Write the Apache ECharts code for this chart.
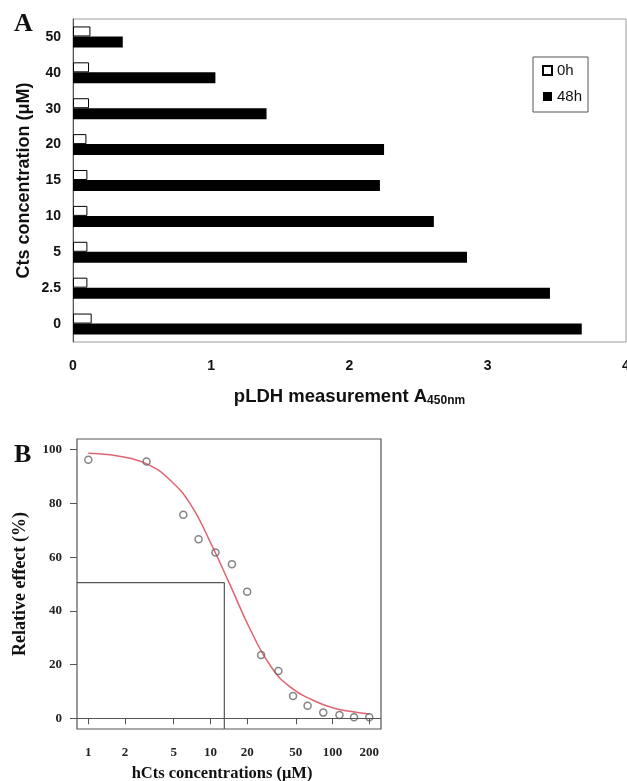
<!DOCTYPE html>
<html><head><meta charset="utf-8">
<script src="https://cdn.jsdelivr.net/npm/echarts@6/dist/echarts.min.js"></script>
<style>html,body{margin:0;padding:0;background:#fff}#c{width:627px;height:781px}</style>
</head><body><div id="c"></div>
<script>
// ---- Panel A data ----
const categoriesA = ['0', '2.5', '5', '10', '15', '20', '30', '40', '50'];
const values0h = [0.135, 0.104, 0.104, 0.104, 0.104, 0.097, 0.116, 0.116, 0.126];
const values48h = [3.68, 3.45, 2.85, 2.61, 2.22, 2.25, 1.40, 1.03, 0.36];
const seriesNamesA = ['0h', '48h'];

// ---- Panel B data ----
const concB = [1, 3, 6, 8, 11, 15, 20, 26, 36, 47.5, 62.5, 84, 114, 150, 200];
const effectB = [96.3, 95.6, 75.8, 66.7, 61.7, 57.4, 47.1, 23.6, 17.6, 8.3, 4.7, 2.1, 1.2, 0.4, 0.4];
const fitX = [1, 1.5, 2.2, 3.2, 4.6, 6.8, 10, 14.7, 21.5, 31.6, 46.4, 68, 100, 147, 200];
const fitY = [98.7, 98.1, 96.8, 94.2, 89.0, 80.0, 65.5, 49.0, 32.5, 19.0, 11.2, 6.9, 3.9, 2.4, 1.6];
const xTicksB = [1, 2, 5, 10, 20, 50, 100, 200];
const yTicksB = [0, 20, 40, 60, 80, 100];
const ic50 = 13;
const halfEffect = 50.5;
const xRangeB = [0.808, 249.5];
const yRangeB = [-4, 104];

const SANS = 'Liberation Sans';
const SERIF = 'Liberation Serif';

const chart = echarts.init(document.getElementById('c'), null, {renderer: 'canvas'});

const option = {
  animation: false,
  backgroundColor: '#fff',
  title: [
    {text: 'A', left: 14, top: 11, padding: 0, textStyle: {fontFamily: SERIF, fontWeight: 'bold', fontSize: 26, color: '#111'}},
    {text: 'B', left: 14, top: 442, padding: 0, textStyle: {fontFamily: SERIF, fontWeight: 'bold', fontSize: 26, color: '#111'}}
  ],
  legend: {
    data: seriesNamesA,
    orient: 'vertical',
    left: 533, top: 57,
    padding: [6, 6, 8, 9],
    itemWidth: 9, itemHeight: 9, itemGap: 11,
    icon: 'rect',
    borderColor: '#555', borderWidth: 1,
    backgroundColor: '#fff',
    textStyle: {fontFamily: SANS, fontSize: 15, color: '#111'}
  },
  grid: [
    {left: 73, top: 19, width: 553, height: 323, show: true, borderColor: '#999', borderWidth: 1, outerBoundsMode: 'none', containLabel: false},
    {left: 77, top: 439, width: 304, height: 290, show: true, borderColor: '#555', borderWidth: 1.2, outerBoundsMode: 'none', containLabel: false}
  ],
  xAxis: [
    {
      gridIndex: 0, type: 'value', min: 0, max: 4, interval: 1,
      splitLine: {show: false},
      axisLine: {lineStyle: {color: '#555'}},
      axisTick: {length: 4, lineStyle: {color: '#555'}},
      axisLabel: {margin: 17, fontFamily: SANS, fontWeight: 'bold', fontSize: 14, color: '#111'},
      name: '{m|pLDH measurement A}{s|450nm}',
      nameLocation: 'middle', nameGap: 44, nameMoveOverlap: false,
      nameTextStyle: {
        rich: {
          m: {fontFamily: SANS, fontWeight: 'bold', fontSize: 18.5, color: '#111'},
          s: {fontFamily: SANS, fontWeight: 'bold', fontSize: 12, color: '#111', padding: [9, 0, 0, 0]}
        }
      }
    },
    {
      gridIndex: 1, type: 'log', logBase: 10, min: xRangeB[0], max: xRangeB[1],
      splitLine: {show: false},
      axisLine: {show: false},
      axisTick: {length: 6, customValues: xTicksB, lineStyle: {color: '#555'}},
      axisLabel: {margin: 17, customValues: xTicksB, fontFamily: SERIF, fontWeight: 'bold', fontSize: 13, color: '#222'},
      name: 'hCts concentrations (μM)',
      nameLocation: 'middle', nameGap: 36, nameMoveOverlap: false,
      nameTextStyle: {fontFamily: SERIF, fontWeight: 'bold', fontSize: 16.5, color: '#111', padding: [0, 14, 0, 0]}
    }
  ],
  yAxis: [
    {
      gridIndex: 0, type: 'category', data: categoriesA,
      axisLine: {lineStyle: {color: '#555'}},
      axisTick: {length: 5, lineStyle: {color: '#555'}},
      axisLabel: {margin: 12, fontFamily: SANS, fontWeight: 'bold', fontSize: 14, color: '#111'},
      name: 'Cts concentration (μM)',
      nameLocation: 'middle', nameGap: 40, nameRotate: 90, nameMoveOverlap: false,
      nameTextStyle: {fontFamily: SANS, fontWeight: 'bold', fontSize: 18, color: '#111'}
    },
    {
      gridIndex: 1, type: 'value', min: yRangeB[0], max: yRangeB[1],
      splitLine: {show: false},
      axisLine: {show: false},
      axisTick: {show: true, length: 7, customValues: yTicksB, lineStyle: {color: '#555'}},
      axisLabel: {margin: 15, customValues: yTicksB, fontFamily: SERIF, fontWeight: 'bold', fontSize: 13, color: '#222'},
      name: 'Relative effect (%)',
      nameLocation: 'middle', nameGap: 48, nameRotate: 90, nameMoveOverlap: false,
      nameTextStyle: {fontFamily: SERIF, fontWeight: 'bold', fontSize: 18, color: '#111'}
    }
  ],
  series: [
    {
      name: seriesNamesA[0], type: 'bar', xAxisIndex: 0, yAxisIndex: 0,
      data: values0h, barWidth: 10, barGap: '0%',
      itemStyle: {color: '#fff', borderColor: '#000', borderWidth: 1}
    },
    {
      name: seriesNamesA[1], type: 'bar', xAxisIndex: 0, yAxisIndex: 0,
      data: values48h, barWidth: 11, barGap: '0%',
      itemStyle: {color: '#000'}
    },
    {
      type: 'line', xAxisIndex: 1, yAxisIndex: 1,
      data: [[xRangeB[0], halfEffect], [ic50, halfEffect], [ic50, yRangeB[0]]],
      symbol: 'none', lineStyle: {color: '#555', width: 1.2}, silent: true, z: 1
    },
    {
      type: 'line', xAxisIndex: 1, yAxisIndex: 1,
      data: fitX.map((x, i) => [x, fitY[i]]),
      symbol: 'none', smooth: 0.5,
      lineStyle: {color: '#e0646f', width: 1.5}, silent: true, z: 2
    },
    {
      type: 'scatter', xAxisIndex: 1, yAxisIndex: 1,
      data: concB.map((x, i) => [x, effectB[i]]),
      symbol: 'circle', symbolSize: 7,
      itemStyle: {color: 'rgba(255,255,255,0)', borderColor: '#666', borderWidth: 1.5},
      z: 3,
      markLine: {
        silent: true, symbol: 'none', label: {show: false},
        lineStyle: {color: '#555', type: 'solid', width: 1.2},
        data: [{yAxis: 0}]
      }
    }
  ]
};
chart.setOption(option);
</script>
</body></html>
